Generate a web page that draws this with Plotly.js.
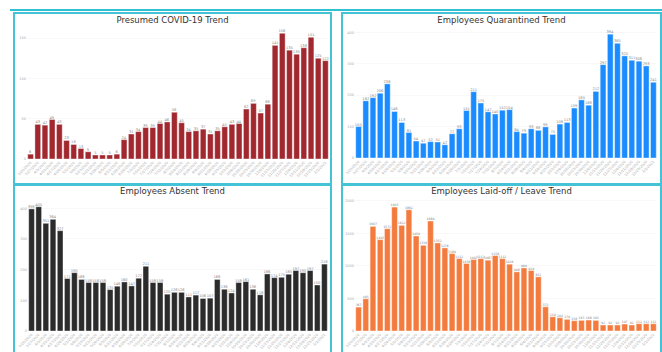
<!DOCTYPE html>
<html><head><meta charset="utf-8">
<script src="https://cdn.plot.ly/plotly-3.0.1.min.js"></script>
<style>
html,body{margin:0;padding:0;background:#fff;width:662px;height:352px;overflow:hidden;position:relative;}
.box{position:absolute;border:2px solid #45C3D6;box-sizing:border-box;}
.plot{position:absolute;}
#topline{position:absolute;left:10px;top:9px;width:652px;height:2px;background:#2FC0D2;}
</style></head>
<body>
<div id="topline"></div>
<div class="box" style="left:13px;top:12px;width:319px;height:173px;"></div>
<div class="box" style="left:341px;top:12px;width:321px;height:173px;"></div>
<div class="box" style="left:13px;top:184px;width:319px;height:200px;"></div>
<div class="box" style="left:341px;top:184px;width:321px;height:200px;"></div>
<div id="p1" class="plot" style="left:15px;top:14px;width:315px;height:170px;"></div>
<div id="p2" class="plot" style="left:343px;top:14px;width:317px;height:170px;"></div>
<div id="p3" class="plot" style="left:15px;top:186px;width:315px;height:166px;"></div>
<div id="p4" class="plot" style="left:343px;top:186px;width:317px;height:166px;"></div>
<script>
const dates = ["3/20/2020","3/27/2020","4/3/2020","4/10/2020","4/17/2020","4/24/2020","5/1/2020","5/8/2020","5/15/2020","5/22/2020","5/29/2020","6/5/2020","6/12/2020","6/19/2020","6/26/2020","7/3/2020","7/10/2020","7/17/2020","7/24/2020","7/31/2020","8/7/2020","8/14/2020","8/21/2020","8/28/2020","9/4/2020","9/11/2020","9/18/2020","9/25/2020","10/2/2020","10/9/2020","10/16/2020","10/23/2020","10/30/2020","11/6/2020","11/13/2020","11/20/2020","11/27/2020","12/4/2020","12/11/2020","12/18/2020","12/25/2020","1/1/2021"];

const presumed = [6,43,42,49,43,23,18,13,9,5,5,5,6,24,31,34,39,39,44,46,58,45,34,35,37,31,35,40,43,44,62,69,57,68,141,156,135,130,138,151,125,122];
const quarantined = [100,182,192,206,236,148,113,81,54,47,52,51,42,77,93,151,211,175,147,140,152,154,84,79,93,88,99,75,108,113,159,185,168,212,297,394,365,325,311,308,293,241];
const absent = [398,405,351,364,327,171,190,168,158,158,158,135,146,160,147,172,211,158,158,120,126,126,111,117,106,107,168,136,124,158,161,136,118,186,174,175,185,197,190,197,150,218];
const laidoff = [367,495,1607,1403,1571,1903,1622,1862,1459,1316,1689,1352,1276,1189,1112,1036,1097,1112,1087,1158,1112,1026,908,969,929,832,372,219,204,179,158,163,168,163,92,92,92,107,92,112,112,112];

const titles = ["Presumed COVID-19 Trend","Employees Quarantined Trend","Employees Absent Trend","Employees Laid-off / Leave Trend"];
const colors = ["#A1282F","#1A8CFF","#2B2B2B","#F47B3E"];

function draw(id, values, title, color, yr, dtick, margin, titleY, lblSize){
  const trace = {
    type:'bar', x:dates, y:values, marker:{color:color, line:{color:'#ffffff', width:0.4}},
    text: values.map(String), textposition:'outside', cliponaxis:false,
    textfont:{size:lblSize, color:'#888', family:'DejaVu Sans'}, constraintext:'none', hoverinfo:'none'
  };
  const layout = {
    width: document.getElementById(id).offsetWidth,
    height: document.getElementById(id).offsetHeight,
    margin: margin, paper_bgcolor:'rgba(0,0,0,0)', plot_bgcolor:'rgba(0,0,0,0)',
    bargap:0.2, showlegend:false,
    title:{text:title, font:{family:'DejaVu Sans', size:8.5, color:'#333'}, x:0.5, xanchor:'center', y:titleY, yref:'container', yanchor:'middle'},
    xaxis:{type:'category', tickangle:-45, tickfont:{size:3.5, color:'#aaa', family:'DejaVu Sans'}, showgrid:false, zeroline:false, showline:false, ticks:'', automargin:false},
    yaxis:{range:yr, dtick:dtick, tickfont:{size:3.5, color:'#aaa', family:'DejaVu Sans'}, showgrid:true, gridcolor:'#f2f2f2', gridwidth:0.5, zeroline:false, showline:false, ticks:'', automargin:false}
  };
  Plotly.newPlot(id, [trace], layout, {staticPlot:true, displayModeBar:false});
}

draw('p1', presumed, titles[0], colors[0], [0,165], 50, {l:12.4, r:1.4, t:11.5, b:25}, 0.965, 3.6);
draw('p2', quarantined, titles[1], colors[1], [0,420], 100, {l:12.4, r:3.4, t:12, b:25.7}, 0.965, 3.6);
draw('p3', absent, titles[2], colors[2], [0,440], 100, {l:13.1, r:2.4, t:10.4, b:21}, 0.97, 3.6);
draw('p4', laidoff, titles[3], colors[3], [0,2150], 500, {l:12.4, r:3.4, t:4.6, b:21}, 0.97, 3.1);
</script>
</body></html>
